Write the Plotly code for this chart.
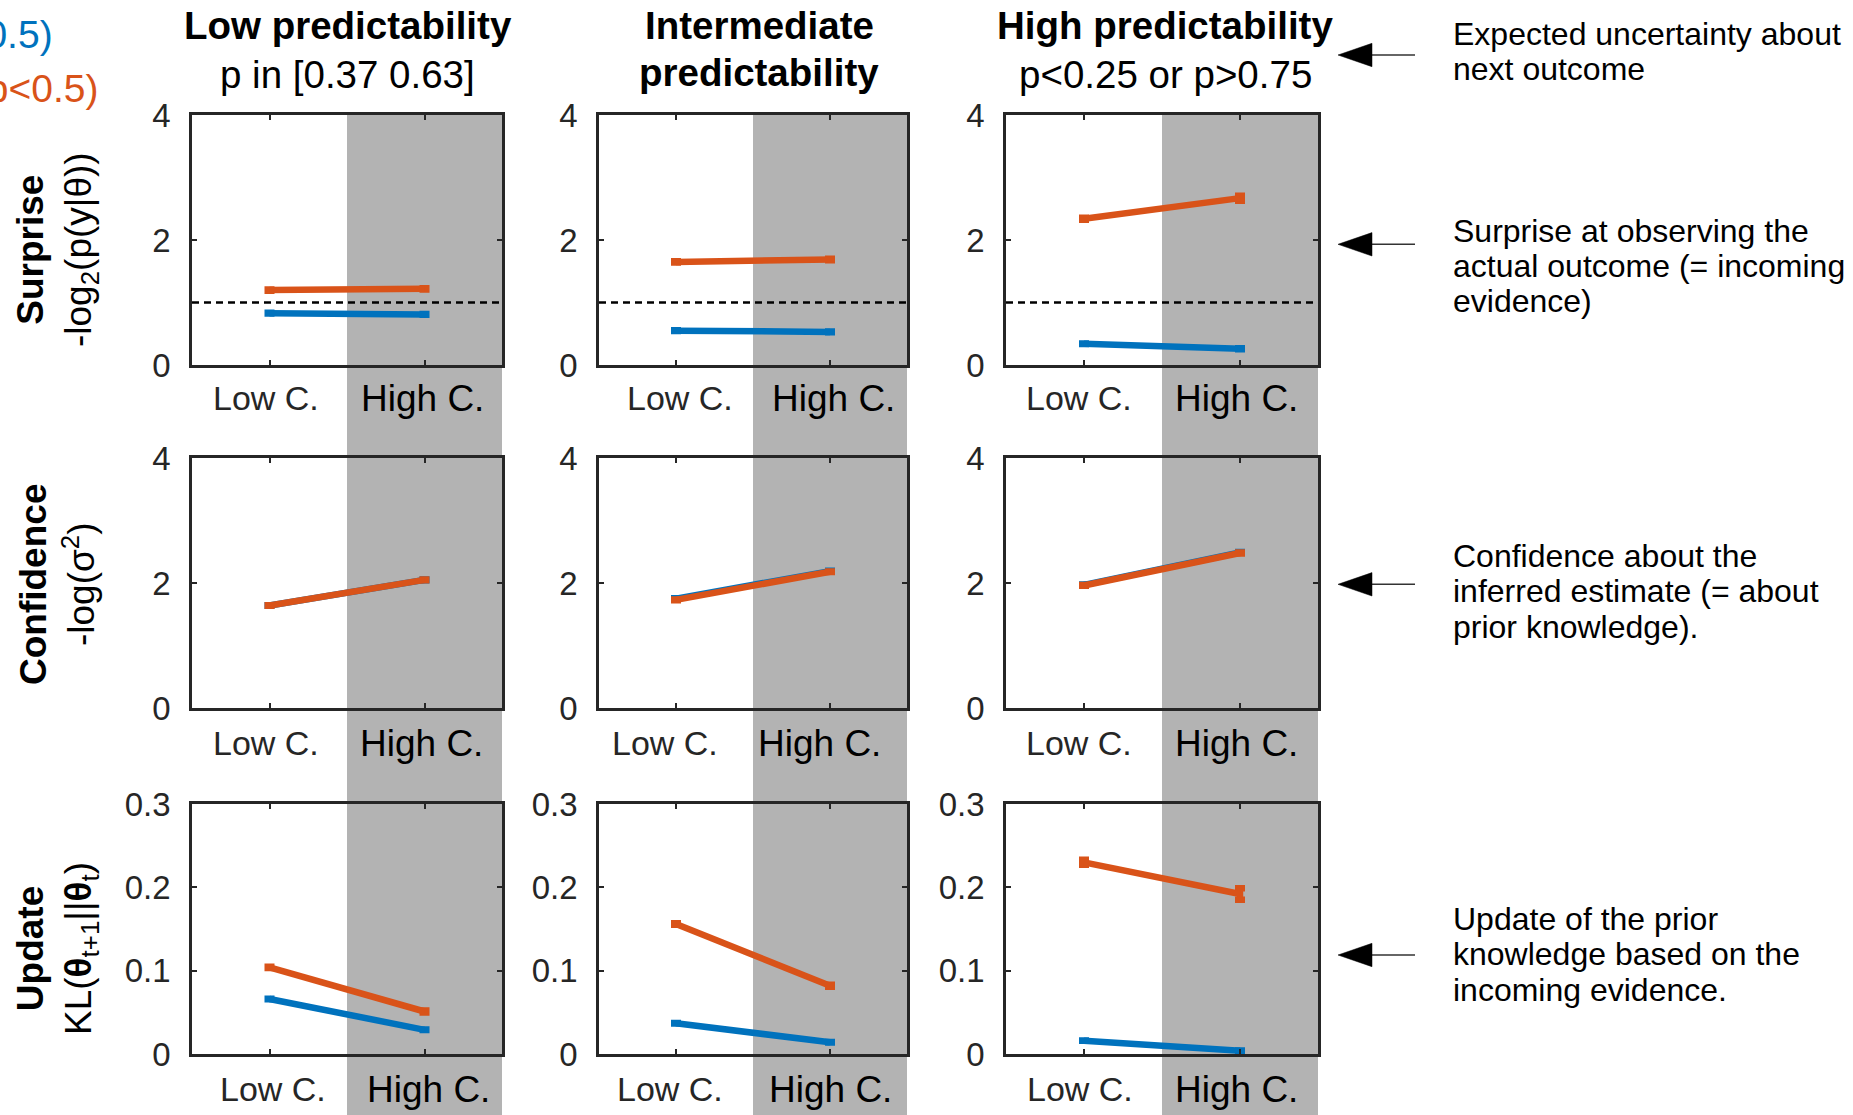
import plotly.graph_objects as go

W, H = 1853, 1115
FONT = "Liberation Sans, Arial, sans-serif"

# ---- data ---------------------------------------------------------------
conditions = ["Low C.", "High C."]
cond_pos = [1, 2]

column_titles = [
    ("<b>Low predictability</b>", "p in [0.37 0.63]"),
    ("<b>Intermediate</b>", "<b>predictability</b>"),
    ("<b>High predictability</b>", "p<0.25 or p>0.75"),
]
row_titles = [
    ("<b>Surprise</b>", "-log<sub>2</sub>(p(y|θ))"),
    ("<b>Confidence</b>", "-log(σ<sup>2</sup>)"),
    ("<b>Update</b>", "KL(<b>θ</b><sub>t+1</sub>||<b>θ</b><sub>t</sub>)"),
]
series_labels = ["Likely outcome (p>0.5)", "Unlikely outcome (p<0.5)"]

# one [Low C., High C.] pair per predictability level
surprise_likely = [[0.83, 0.81], [0.55, 0.53], [0.34, 0.26]]
surprise_unlikely = [[1.20, 1.22], [1.65, 1.69], [2.34, 2.67]]
confidence_likely = [[1.64, 2.05], [1.75, 2.19], [1.97, 2.49]]
confidence_unlikely = [[1.64, 2.05], [1.73, 2.18], [1.96, 2.48]]
update_likely = [[0.066, 0.029], [0.037, 0.014], [0.016, 0.004]]
update_unlikely = [[0.104, 0.051], [0.156, 0.082], [0.230, 0.192]]

# standard errors
surprise_likely_err = [[0.005, 0.005], [0.005, 0.005], [0.005, 0.008]]
surprise_unlikely_err = [[0.01, 0.01], [0.01, 0.012], [0.015, 0.04]]
confidence_likely_err = [[0.005, 0.005], [0.005, 0.005], [0.005, 0.006]]
confidence_unlikely_err = [[0.005, 0.006], [0.005, 0.006], [0.006, 0.01]]
update_likely_err = [[0.0004, 0.0003], [0.0003, 0.0003], [0.0002, 0.0002]]
update_unlikely_err = [[0.0008, 0.0012], [0.001, 0.0012], [0.003, 0.0068]]

chance_surprise = 1.0

annot_lines = [
    ["Expected uncertainty about", "next outcome"],
    ["Surprise at observing the", "actual outcome (= incoming", "evidence)"],
    ["Confidence about the", "inferred estimate (= about", "prior knowledge)."],
    ["Update of the prior", "knowledge based on the", "incoming evidence."],
]

# ---- layout geometry (pixels) ------------------------------------------
col_px = [(192, 502), (599, 907), (1006, 1318)]
row_px = [(115, 365), (458, 708), (804, 1054)]
y_ranges = [[0, 4], [0, 4], [0, 0.3]]
y_ticks = [[0, 2, 4], [0, 2, 4], [0, 0.1, 0.2, 0.3]]
y_ticktext = [["0", "2", "4"], ["0", "2", "4"], ["0", "0.1", "0.2", "0.3"]]
label_shift = {
    (0, 0): (-4, -2), (0, 1): (4, 3), (0, 2): (-5, -4),
    (1, 0): (-4, -3), (1, 1): (-11, -11), (1, 2): (-5, -4),
    (2, 0): (3, 4), (2, 1): (-6, 0), (2, 2): (-4, -4),
}
label_drop = [-33, -35, -35]

BLUE = "#0072BD"
ORANGE = "#D95319"
AXC = "#262626"
GRAY = "#b3b3b3"


def px(x):
    return x / W


def py(y):
    return 1 - y / H


rows_data = [
    (surprise_likely, surprise_likely_err, surprise_unlikely, surprise_unlikely_err),
    (confidence_likely, confidence_likely_err, confidence_unlikely, confidence_unlikely_err),
    (update_likely, update_likely_err, update_unlikely, update_unlikely_err),
]

fig = go.Figure()
layout = {}
annotations = []
shapes = []

for r in range(3):
    for c in range(3):
        k = r * 3 + c + 1
        xa = "x" if k == 1 else f"x{k}"
        ya = "y" if k == 1 else f"y{k}"
        xkey = "xaxis" if k == 1 else f"xaxis{k}"
        ykey = "yaxis" if k == 1 else f"yaxis{k}"
        x0, x1 = col_px[c]
        y0, y1 = row_px[r]
        layout[xkey] = dict(
            domain=[px(x0), px(x1)], anchor=ya, range=[0.5, 2.5],
            tickvals=cond_pos, showticklabels=False, ticks="inside",
            ticklen=5, tickwidth=2, tickcolor=AXC, showline=True,
            linecolor=AXC, linewidth=2.5, mirror="ticks",
            showgrid=False, zeroline=False, fixedrange=True,
            automargin=False,
        )
        layout[ykey] = dict(
            domain=[py(y1), py(y0)], anchor=xa, range=y_ranges[r],
            tickvals=y_ticks[r], ticktext=y_ticktext[r], ticks="inside",
            ticklen=5, tickwidth=2, tickcolor=AXC, showline=True,
            linecolor=AXC, linewidth=2.5, mirror="ticks",
            showgrid=False, zeroline=False, fixedrange=True,
            tickfont=dict(family=FONT, size=33, color=AXC),
            ticklabelstandoff=12, automargin=False,
        )

        if r == 0:
            fig.add_trace(go.Scatter(
                x=[0.5, 2.5], y=[chance_surprise, chance_surprise],
                mode="lines", line=dict(color="black", width=2.5, dash="7px,5px"),
                xaxis=xa, yaxis=ya, showlegend=False, hoverinfo="skip",
            ))

        lik, lik_err, unl, unl_err = rows_data[r]
        for vals, errs, color, name in [
            (lik[c], lik_err[c], BLUE, series_labels[0]),
            (unl[c], unl_err[c], ORANGE, series_labels[1]),
        ]:
            fig.add_trace(go.Scatter(
                x=cond_pos, y=vals, mode="lines",
                line=dict(color=color, width=6.5),
                error_y=dict(type="data", array=errs, visible=True,
                             color=color, thickness=6.5, width=5),
                xaxis=xa, yaxis=ya, name=name, showlegend=False,
            ))

        # condition labels under each panel
        ls, hs = label_shift[(r, c)]
        annotations.append(dict(
            x=cond_pos[0], y=0, xref=xa, yref=f"{ya} domain",
            text=conditions[0], showarrow=False, xanchor="center",
            yanchor="middle", xshift=ls, yshift=label_drop[r],
            font=dict(family=FONT, size=34, color=AXC),
        ))
        annotations.append(dict(
            x=cond_pos[1], y=0, xref=xa, yref=f"{ya} domain",
            text=conditions[1], showarrow=False, xanchor="center",
            yanchor="middle", xshift=hs, yshift=label_drop[r],
            font=dict(family=FONT, size=37, color="black"),
        ))

# shaded high-confidence band, running from the top panels to the bottom
for c in range(3):
    xa = "x" if c == 0 else f"x{c + 1}"
    shapes.append(dict(
        type="rect", xref=xa, yref="paper", x0=1.5, x1=2.5,
        y0=0, y1=py(row_px[0][0]), fillcolor=GRAY, line_width=0,
        layer="below",
    ))

# column headers
title_centers = [(347.5, 25.4, 74.4), (759, 25.4, 72.5), (1165, 25.4, 74.4)]
for (t1, t2), (cx, cy1, cy2) in zip(column_titles, title_centers):
    for txt, cy in [(t1, cy1), (t2, cy2)]:
        annotations.append(dict(
            x=px(cx), y=py(cy), xref="paper", yref="paper", text=txt,
            showarrow=False, xanchor="center", yanchor="middle",
            font=dict(family=FONT, size=38.5, color="black"),
        ))

# row titles
row_title_y = [250, 585, 949]
for (t1, t2), cy in zip(row_titles, row_title_y):
    annotations.append(dict(
        x=px(57), y=py(cy), xref="paper", yref="paper",
        text=f"{t1}<br>{t2}", textangle=-90, showarrow=False,
        xanchor="center", yanchor="middle", align="center",
        font=dict(family=FONT, size=37, color="black"),
    ))

# series key in the upper-left corner
for label, color, rx, cy in [(series_labels[0], BLUE, 55, 34),
                             (series_labels[1], ORANGE, 100, 88)]:
    annotations.append(dict(
        x=px(rx), y=py(cy), xref="paper", yref="paper", text=label,
        showarrow=False, xanchor="right", yanchor="middle",
        font=dict(family=FONT, size=39, color=color),
    ))

# explanatory notes with arrows on the right
note_baselines = [[45, 80], [241.7, 277, 312], [566.7, 601.7, 637.7],
                  [930, 965, 1000.7]]
arrow_y = [55, 244.3, 584.3, 955]
for lines, bases in zip(annot_lines, note_baselines):
    for txt, b in zip(lines, bases):
        annotations.append(dict(
            x=px(1451), y=py(b - 11.1), xref="paper", yref="paper",
            text=txt, showarrow=False, xanchor="left", yanchor="middle",
            font=dict(family=FONT, size=32, color="black"),
        ))

for ay in arrow_y:
    tip, base, tail, half = 1338, 1372, 1415, 11.7
    shapes.append(dict(
        type="line", xref="paper", yref="paper",
        x0=px(base - 4), x1=px(tail), y0=py(ay), y1=py(ay),
        line=dict(color="#333333", width=1.5),
    ))
    path = (f"M {px(tip)} {py(ay)} L {px(base)} {py(ay - half)} "
            f"L {px(base)} {py(ay + half)} Z")
    shapes.append(dict(
        type="path", xref="paper", yref="paper", path=path,
        fillcolor="black", line=dict(color="black", width=0.5),
    ))

fig.update_layout(
    **layout,
    width=W, height=H,
    margin=dict(l=0, r=0, t=0, b=0, pad=0, autoexpand=False),
    paper_bgcolor="white",
    plot_bgcolor="rgba(0,0,0,0)",
    showlegend=False,
    annotations=annotations,
    shapes=shapes,
    font=dict(family=FONT),
)

fig.write_html("out.html", config={"displayModeBar": False})
